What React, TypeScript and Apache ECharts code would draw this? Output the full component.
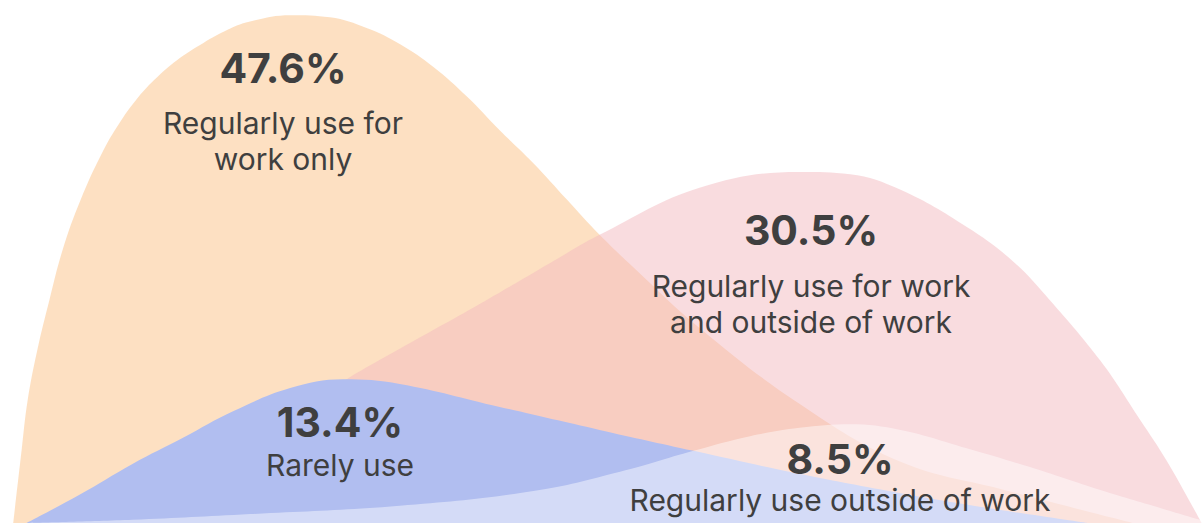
import React, { useEffect, useRef } from "react";
import * as echarts from "echarts";

// Horizontal position (0–100 across the chart) and hump height (0–100 of chart height)
const workOnlyCurve: [number, number][] = [
  [1.1, 0], [1.8, 14.0], [2.3, 23.5], [3.1, 33.1], [4.1, 42.6], [5.2, 52.2],
  [6.7, 61.8], [8.6, 71.3], [10.1, 77.1], [11.3, 80.9], [12.8, 84.7],
  [14.7, 88.5], [16.9, 91.8], [18.9, 94.3], [20.6, 95.8], [24.1, 97.1],
  [27.4, 96.7], [30.5, 94.6], [33.2, 91.6], [36.0, 87.2], [38.8, 81.5],
  [41.5, 75.1], [44.3, 68.8], [47.1, 61.8], [49.8, 55.1], [52.6, 48.9],
  [58.1, 37.3], [66.4, 22.8], [74.8, 11.7], [83.1, 6.5], [94.1, 0],
];
const workAndOutsideCurve: [number, number][] = [
  [8.3, 0], [20.8, 15.9], [28.8, 27.5], [33.2, 33.3], [40.4, 42.6], [45.7, 49.7],
  [49.8, 55.1], [58.1, 64.1], [66.4, 67.1], [70.6, 66.7], [74.8, 63.7],
  [80.3, 56.6], [84.1, 50.1], [87.2, 42.6], [91.4, 31.0], [94.7, 19.7],
  [96.9, 11.9], [99.8, 0],
];
const rarelyCurve: [number, number][] = [
  [2.2, 0], [6.6, 5.4], [11.0, 11.3], [15.2, 16.3], [19.4, 21.4], [24.1, 25.8],
  [28.5, 27.5], [33.2, 26.6], [41.5, 22.2], [49.8, 17.8], [57.6, 13.8],
  [66.4, 9.4], [74.8, 5.7], [83.1, 2.5], [90.3, 0],
];
const outsideOnlyCurve: [number, number][] = [
  [2.5, 0], [11.0, 0.6], [20.8, 1.7], [33.2, 3.3], [44.3, 6.1], [51.5, 9.8],
  [57.6, 13.8], [62.3, 16.6], [66.4, 18.2], [70.6, 18.9], [74.8, 17.8],
  [80.3, 14.3], [85.8, 10.5], [91.4, 6.3], [96.9, 2.5], [100, 0.4],
];

const percentLabels = ["47.6%", "30.5%", "13.4%", "8.5%"];
const categoryLabels = [
  ["Regularly use for", "work only"],
  ["Regularly use for work", "and outside of work"],
  ["Rarely use"],
  ["Regularly use outside of work"],
];

const FONT = "Inter, 'Liberation Sans', Arial, sans-serif";
const TEXT_COLOR = "#3f3f3f";

export default function App() {
  const ref = useRef<HTMLDivElement>(null);

  useEffect(() => {
    if (!ref.current) return;
    const chart = echarts.init(ref.current, null, { renderer: "svg" });

    const mkSeries = (name: string, data: [number, number][], color: string) => ({
      name,
      type: "line",
      data,
      smooth: 0.4,
      symbol: "none",
      lineStyle: { width: 0 },
      areaStyle: { color, opacity: 1 },
      silent: true,
    });

    // label layout: x center, y middle of percent, y middles of category lines
    const layout = [
      { x: 283, py: 68, ly: [123, 159] },
      { x: 811, py: 230, ly: [286, 322] },
      { x: 340, py: 422, ly: [465] },
      { x: 840, py: 459, ly: [500] },
    ];

    const graphics: any[] = [];
    layout.forEach((l, i) => {
      graphics.push({
        type: "text",
        x: l.x,
        y: l.py,
        z: 100,
        style: {
          text: percentLabels[i],
          font: `bold 41px ${FONT}`,
          lineHeight: 38,
          fill: TEXT_COLOR,
          align: "center",
          verticalAlign: "middle",
        },
      });
      categoryLabels[i].forEach((line, j) => {
        graphics.push({
          type: "text",
          x: l.x,
          y: l.ly[j],
          z: 100,
          style: {
            text: line,
            font: `30px ${FONT}`,
            lineHeight: 30,
            fill: TEXT_COLOR,
            align: "center",
            verticalAlign: "middle",
          },
        });
      });
    });

    chart.setOption({
      animation: false,
      grid: { left: 0, right: 0, top: 0, bottom: 0 },
      xAxis: { type: "value", min: 0, max: 100, show: false },
      yAxis: { type: "value", min: 0, max: 100, show: false },
      series: [
        mkSeries("Regularly use for work only", workOnlyCurve, "rgba(251,193,133,0.5)"),
        mkSeries("Regularly use for work and outside of work", workAndOutsideCurve, "rgba(243,185,191,0.5)"),
        mkSeries("Rarely use", rarelyCurve, "#b1bef0"),
        mkSeries("Regularly use outside of work", outsideOnlyCurve, "rgba(255,255,255,0.45)"),
      ],
      graphic: graphics,
    });

    return () => chart.dispose();
  }, []);

  return (
    <div
      ref={ref}
      style={{ position: "absolute", left: 0, top: 0, width: 1204, height: 523 }}
    />
  );
}
